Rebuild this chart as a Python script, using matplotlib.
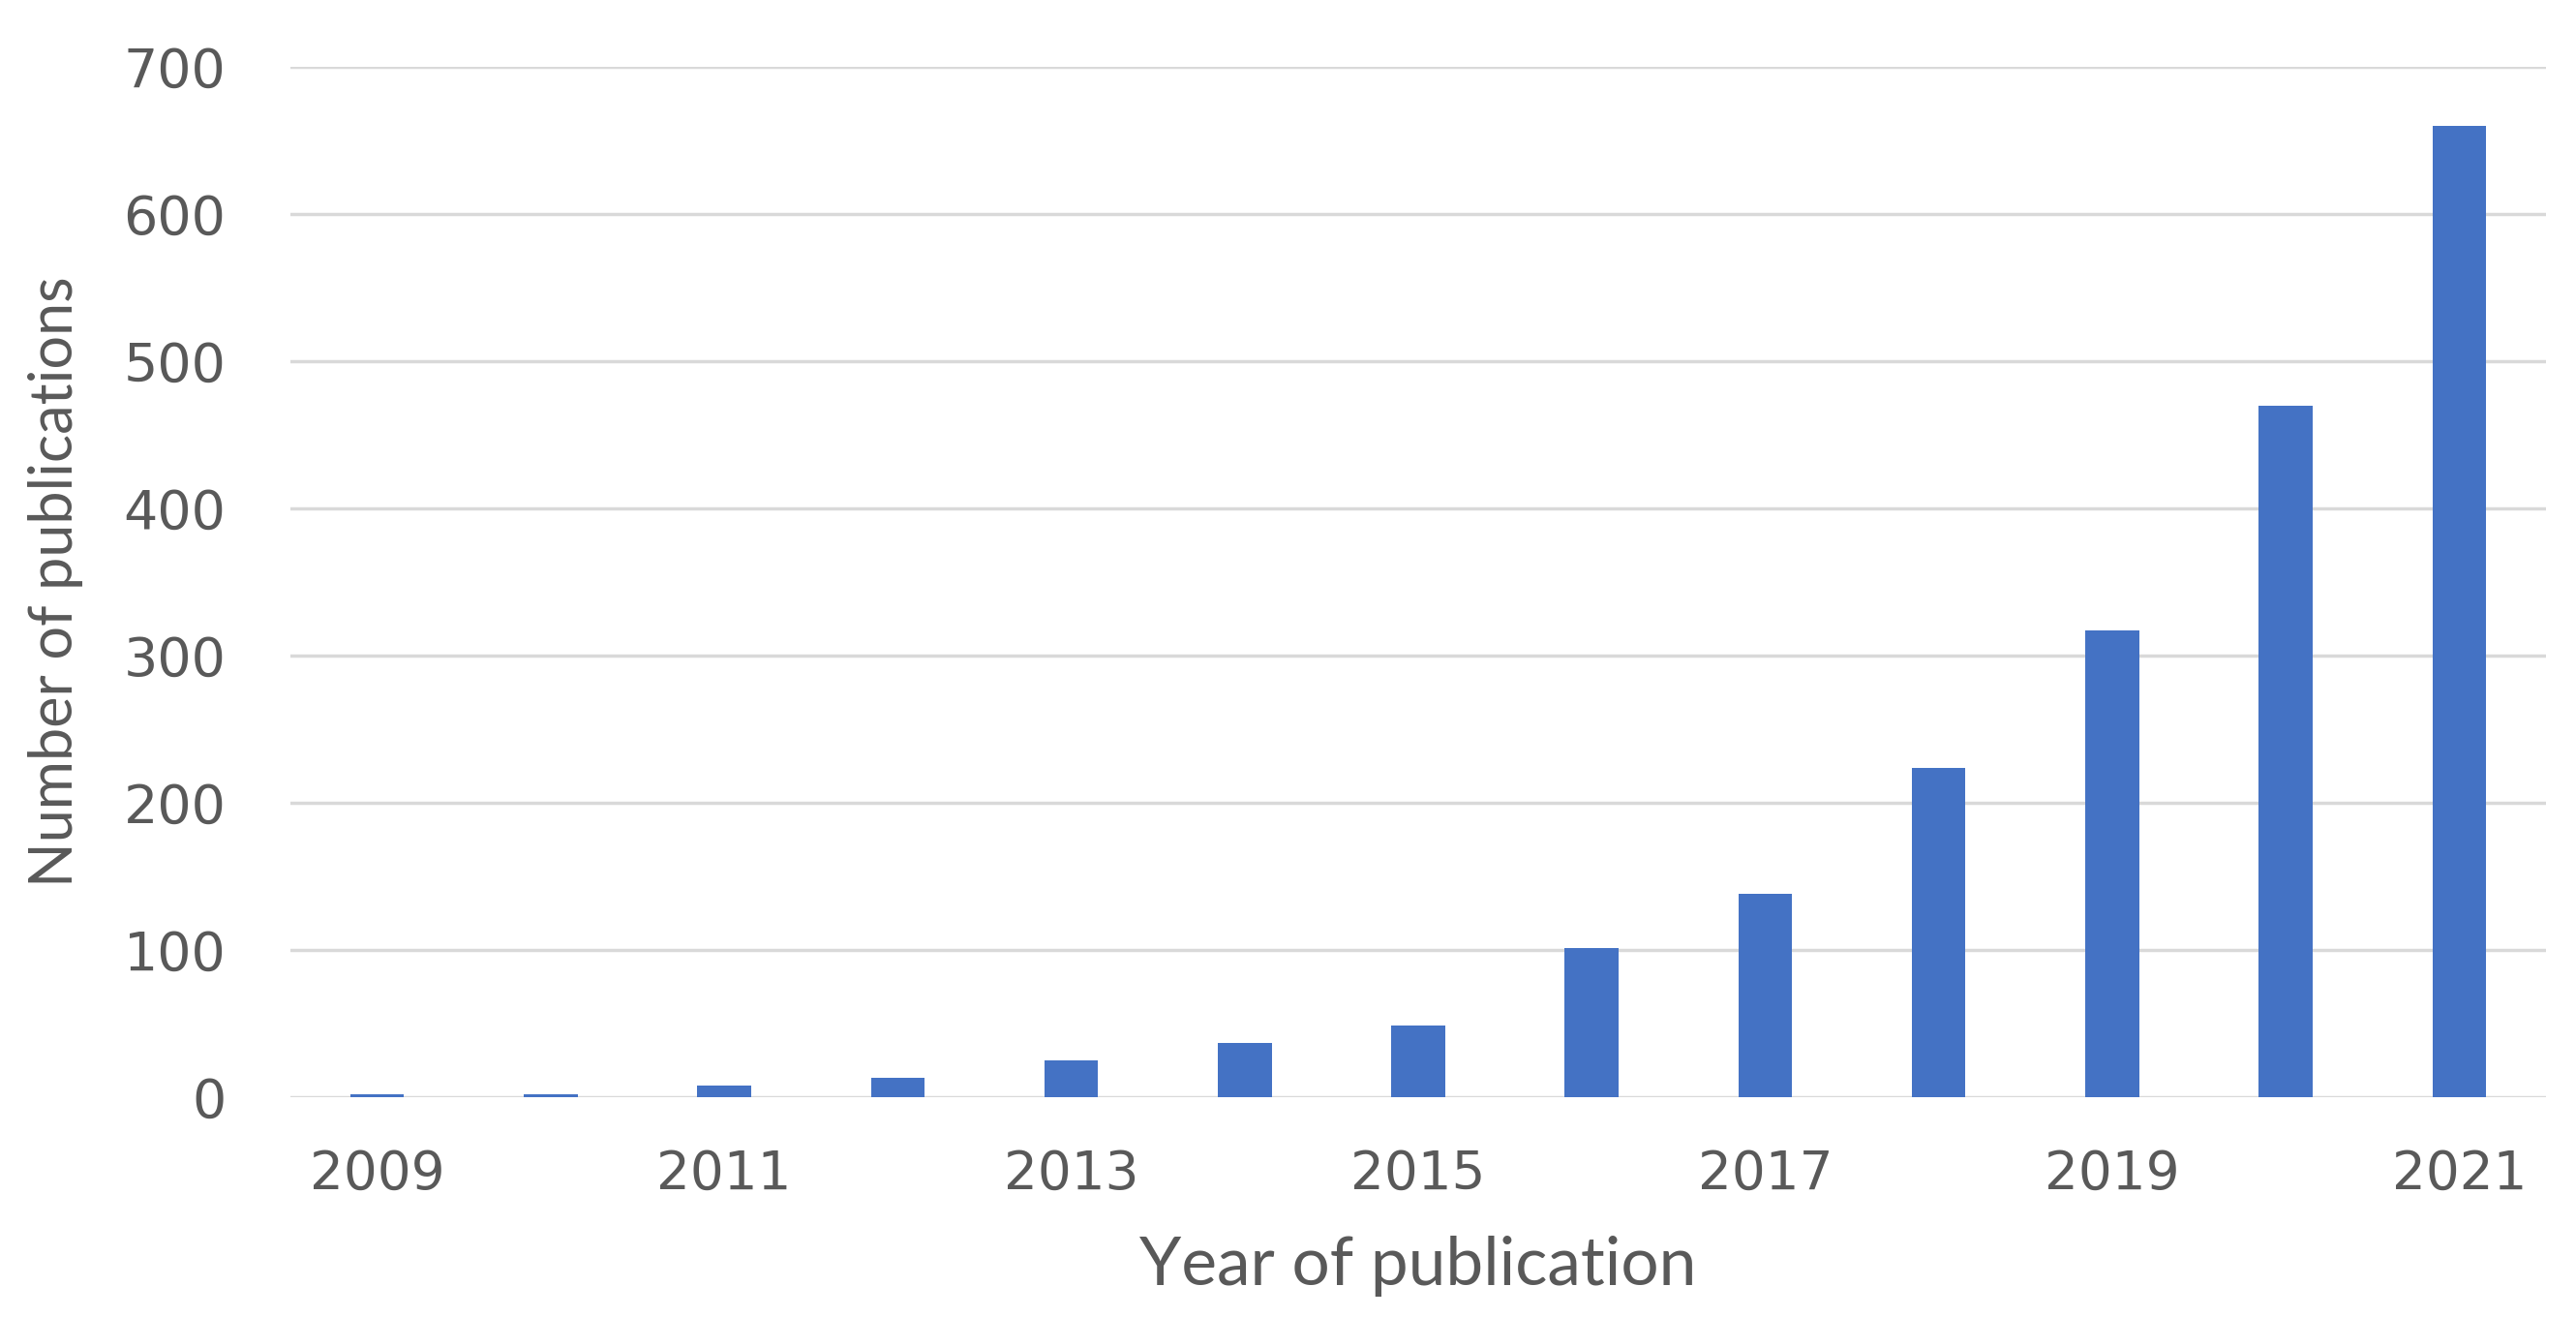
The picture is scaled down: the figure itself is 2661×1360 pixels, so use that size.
import matplotlib
matplotlib.use('Agg')
import matplotlib.pyplot as plt

# Datos
years = ['2009', '2010', '2011', '2012', '2013', '2014', '2015',
         '2016', '2017', '2018', '2019', '2020', '2021']
publications = [2, 2, 8, 13, 25, 37, 49, 101, 138, 224, 317, 470, 660]
y_ticks = [0, 100, 200, 300, 400, 500, 600, 700]

BAR_COLOR = '#4472C4'
TEXT_COLOR = '#595959'
GRID_COLOR = '#D9D9D9'

fig = plt.figure(figsize=(26.61, 13.6), dpi=100)
ax = fig.add_axes([300 / 2661, 1 - 1133 / 1360, 2330 / 2661, 1064 / 1360])

x = list(range(len(years)))
ax.bar(x, publications, width=0.31, color=BAR_COLOR, zorder=3)

ax.set_xlim(-0.5, len(years) - 0.5)
ax.set_ylim(0, 700)
ax.set_yticks(y_ticks)
ax.set_xticks(x[::2])
ax.set_xticklabels(years[::2])

ax.grid(axis='y', color=GRID_COLOR, linewidth=2.5, zorder=0)
for s in ax.spines.values():
    s.set_visible(False)
ax.tick_params(axis='both', length=0, colors=TEXT_COLOR)
ax.tick_params(axis='y', labelsize=40, pad=48)
ax.tick_params(axis='x', labelsize=39.5, pad=38)

ax.set_xlabel('Year of publication', fontsize=50, color=TEXT_COLOR,
              family='Lato', labelpad=26)
ax.set_ylabel('Number of publications', fontsize=44, color=TEXT_COLOR,
              family='Lato', labelpad=30)

fig.savefig('out.png', dpi=100, facecolor='white')
